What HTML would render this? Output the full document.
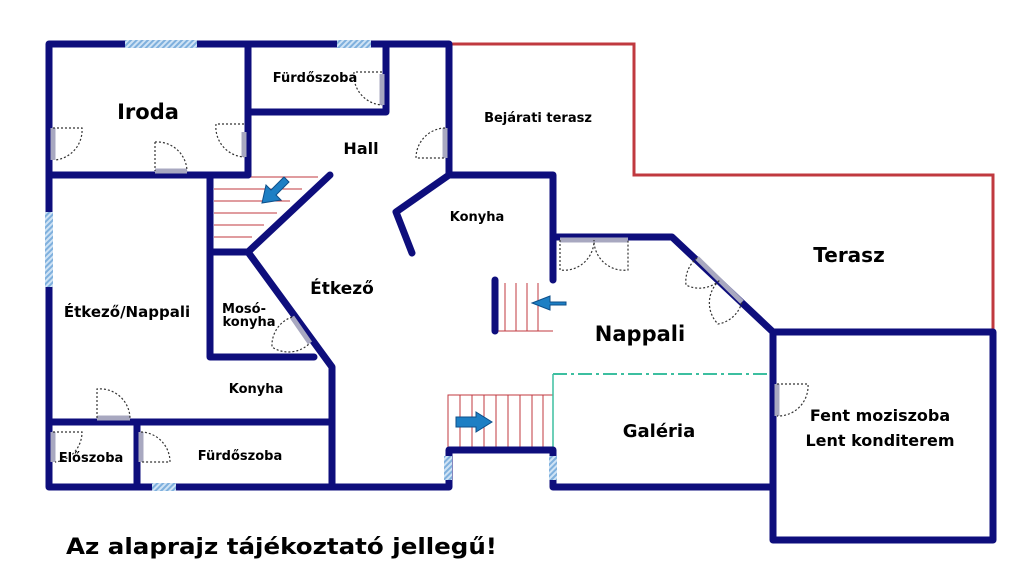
<!DOCTYPE html>
<html><head><meta charset="utf-8"><style>
html,body{margin:0;padding:0;background:#fff;width:1024px;height:585px;overflow:hidden}
svg{display:block}
text{font-family:"DejaVu Sans","Liberation Sans",sans-serif;font-weight:bold;fill:#000}
</style></head><body>
<svg width="1024" height="585" viewBox="0 0 1024 585" xmlns="http://www.w3.org/2000/svg">
<defs>
<pattern id="win" width="4" height="4" patternUnits="userSpaceOnUse" patternTransform="rotate(45)">
<rect width="4" height="4" fill="#cfe3f5"/><rect width="2" height="4" fill="#7fb0dd"/></pattern>
</defs>
<polyline points="449,44 634,44 634,175 993,175 993,332" fill="none" stroke="#c0393f" stroke-width="3"/>
<g stroke="#c0393f" stroke-width="1" fill="none">
<line x1="214" y1="177" x2="318" y2="177"/><line x1="214" y1="189" x2="302" y2="189"/>
<line x1="214" y1="201" x2="290" y2="201"/><line x1="214" y1="213" x2="277" y2="213"/>
<line x1="214" y1="225" x2="264" y2="225"/><line x1="214" y1="237" x2="252" y2="237"/>
<polyline points="448,450 448,395 553,395 553,450"/>
<line x1="460" y1="395" x2="460" y2="450"/><line x1="472" y1="395" x2="472" y2="450"/>
<line x1="484" y1="395" x2="484" y2="450"/><line x1="496" y1="395" x2="496" y2="450"/>
<line x1="508" y1="395" x2="508" y2="450"/><line x1="520" y1="395" x2="520" y2="450"/>
<line x1="532" y1="395" x2="532" y2="450"/><line x1="543" y1="395" x2="543" y2="450"/>
<line x1="497" y1="331" x2="553" y2="331"/>
<line x1="505" y1="283" x2="505" y2="331"/><line x1="516" y1="283" x2="516" y2="331"/>
<line x1="527" y1="283" x2="527" y2="331"/><line x1="538" y1="283" x2="538" y2="331"/>
</g>
<line x1="553" y1="374" x2="773" y2="374" stroke="#3cbfa0" stroke-width="2" stroke-dasharray="14,4,3,4"/>
<line x1="553" y1="374" x2="553" y2="450" stroke="#3cbfa0" stroke-width="1.5"/>
<g fill="none" stroke="#0e0e7c" stroke-width="7" stroke-linecap="round" stroke-linejoin="round">
<polyline points="449,175 449,44 49,44 49,487 449,487 449,450 553,450 553,487 773,487"/>
<line x1="248" y1="44" x2="248" y2="175"/>
<line x1="49" y1="175" x2="248" y2="175"/>
<polyline points="248,112 386,112 386,44"/>
<polyline points="553,280 553,175 449,175 396,212 412,253"/>
<polyline points="553,237 672,237 773,332"/>
<rect x="773" y="332" width="220" height="208"/>
<line x1="495" y1="280" x2="495" y2="331"/>
<polyline points="210,175 210,357 314,357"/>
<line x1="210" y1="252" x2="248" y2="252"/>
<line x1="248" y1="252" x2="330" y2="175"/>
<polyline points="248,252 332,367 332,487"/>
<line x1="49" y1="422" x2="332" y2="422"/>
<line x1="137" y1="422" x2="137" y2="487"/>
</g>
<g fill="url(#win)">
<rect x="125" y="40" width="72" height="8"/><rect x="337" y="40" width="34" height="8"/>
<rect x="45" y="212" width="8" height="75"/><rect x="152" y="483" width="24" height="8"/>
<rect x="444" y="456" width="8" height="24"/><rect x="549" y="456" width="8" height="24"/>
</g>
<g stroke="#a8a8c0" stroke-width="5">
<line x1="53" y1="128" x2="53" y2="160"/><line x1="155" y1="171" x2="187" y2="171"/>
<line x1="244" y1="132" x2="244" y2="157"/><line x1="382" y1="74" x2="382" y2="105"/>
<line x1="445" y1="128" x2="445" y2="158"/><line x1="560" y1="240" x2="628" y2="240"/>
<line x1="697" y1="258" x2="742" y2="302"/><line x1="777" y1="384" x2="777" y2="416"/>
<line x1="97" y1="418" x2="130" y2="418"/><line x1="53" y1="432" x2="53" y2="462"/>
<line x1="141" y1="432" x2="141" y2="462"/><line x1="292" y1="317" x2="310" y2="343"/>
</g>
<g fill="none" stroke="#333" stroke-width="1.2" stroke-dasharray="2,2">
<path d="M53 128 H82 A30 30 0 0 1 55 160"/>
<path d="M155 142 V171 M155 142 A30 30 0 0 1 187 171"/>
<path d="M244 124 H216 A30 30 0 0 0 244 157"/>
<path d="M382 72 H354 A30 30 0 0 0 382 105"/>
<path d="M445 128 A30 30 0 0 0 416 158 H445"/>
<path d="M560 240 V270 A30 30 0 0 0 594 240 A30 30 0 0 0 628 270 V240"/>
<path d="M697 258 A30 30 0 0 0 686 285 A30 30 0 0 0 720 280 A30 30 0 0 0 718 324 A30 30 0 0 0 742 302"/>
<path d="M777 384 H808 A30 30 0 0 1 777 416"/>
<path d="M97 418 V389 A30 30 0 0 1 130 418"/>
<path d="M53 432 H82 A30 30 0 0 1 55 462"/>
<path d="M141 432 A30 30 0 0 1 170 462 H141"/>
<path d="M292 317 A30 30 0 0 0 272 347 A30 30 0 0 0 310 343"/>
</g>
<g fill="#1d7fc4" stroke="#0d4f8a" stroke-width="1">
<polygon points="262,203 266,185 271,190 284,177 289,182 276,195 281,200"/>
<polygon points="456,417 476,417 476,412 492,422 476,432 476,427 456,427"/>
<polygon points="566,302 550,302 550,296 532,303 550,310 550,305 566,305"/>
</g>
<text x="148" y="119" font-size="21" text-anchor="middle">Iroda</text>
<text x="315" y="82" font-size="13" text-anchor="middle">Fürdőszoba</text>
<text x="361" y="154" font-size="16" text-anchor="middle">Hall</text>
<text x="538" y="122" font-size="13" text-anchor="middle">Bejárati terasz</text>
<text x="477" y="221" font-size="13" text-anchor="middle">Konyha</text>
<text x="849" y="262" font-size="20" text-anchor="middle">Terasz</text>
<text x="127" y="317" font-size="15" text-anchor="middle">Étkező/Nappali</text>
<text x="244" y="313" font-size="13" text-anchor="middle">Mosó-</text>
<text x="249" y="326" font-size="13" text-anchor="middle">konyha</text>
<text x="342" y="294" font-size="17" text-anchor="middle">Étkező</text>
<text x="256" y="393" font-size="13" text-anchor="middle">Konyha</text>
<text x="640" y="341" font-size="21" text-anchor="middle">Nappali</text>
<text x="659" y="437" font-size="18" text-anchor="middle">Galéria</text>
<text x="880" y="421" font-size="16" text-anchor="middle">Fent moziszoba</text>
<text x="880" y="446" font-size="16" text-anchor="middle">Lent konditerem</text>
<text x="91" y="462" font-size="13" text-anchor="middle">Előszoba</text>
<text x="240" y="460" font-size="13" text-anchor="middle">Fürdőszoba</text>
<text x="66" y="554" font-size="22" textLength="431" lengthAdjust="spacingAndGlyphs">Az alaprajz tájékoztató jellegű!</text>
</svg>
</body></html>
